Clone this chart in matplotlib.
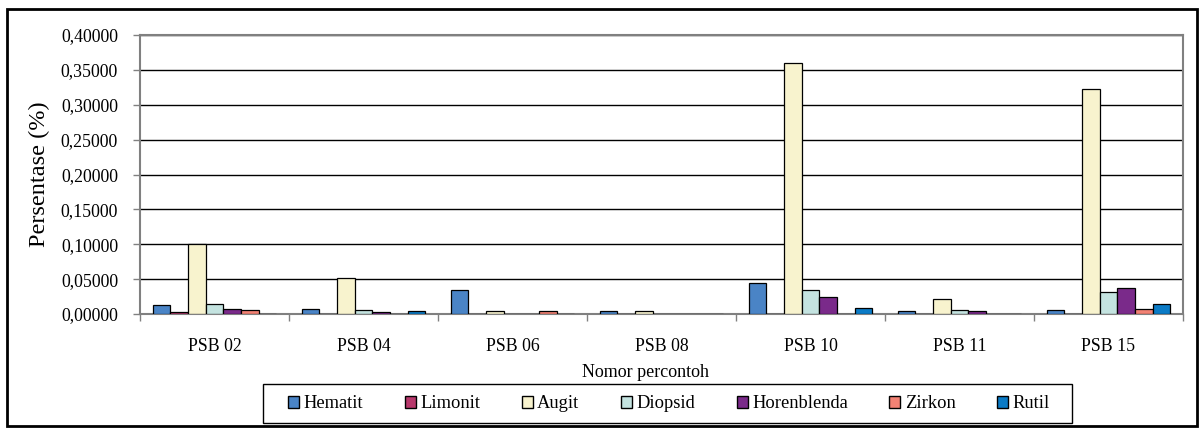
import matplotlib
matplotlib.use('Agg')
import matplotlib.pyplot as plt
import numpy as np
from matplotlib.ticker import FuncFormatter, MultipleLocator
from matplotlib.patches import Rectangle

plt.rcParams['font.family'] = ['Liberation Serif', 'DejaVu Serif']

# Data
samples = ['PSB 02', 'PSB 04', 'PSB 06', 'PSB 08', 'PSB 10', 'PSB 11', 'PSB 15']
minerals = ['Hematit', 'Limonit', 'Augit', 'Diopsid', 'Horenblenda', 'Zirkon', 'Rutil']

hematit = [0.013, 0.007, 0.035, 0.004, 0.045, 0.005, 0.006]
limonit = [0.003, 0.0, 0.0, 0.0, 0.0, 0.0, 0.0]
augit = [0.100, 0.052, 0.004, 0.004, 0.360, 0.022, 0.322]
diopsid = [0.015, 0.006, 0.0, 0.0, 0.035, 0.006, 0.031]
horenblenda = [0.007, 0.003, 0.0, 0.0, 0.024, 0.004, 0.037]
zirkon = [0.006, 0.0, 0.004, 0.0, 0.0, 0.0, 0.007]
rutil = [0.0, 0.004, 0.0, 0.0, 0.009, 0.0, 0.014]

series = [hematit, limonit, augit, diopsid, horenblenda, zirkon, rutil]
colors = ['#4A84C6', '#B8386C', '#F8F3CE', '#C4E3E0', '#7A2A8A', '#F28274', '#0B7BC6']

W, H = 1201, 428
fig = plt.figure(figsize=(W / 100, H / 100), dpi=100)
ax = fig.add_axes([140 / W, 1 - 314 / H, (1183 - 140) / W, (314 - 35) / H])

x = np.arange(len(samples))
n = len(series)
width = 0.832 / n
for i, (vals, col, name) in enumerate(zip(series, colors, minerals)):
    ax.bar(x + (i - (n - 1) / 2) * width, vals, width, color=col,
           edgecolor='black', linewidth=0.9, label=name, zorder=3)

ax.set_xlim(-0.5, len(samples) - 0.5)
ax.set_ylim(0, 0.40)
ax.yaxis.set_major_locator(MultipleLocator(0.05))
ax.yaxis.set_major_formatter(FuncFormatter(lambda v, p: f'{v:.5f}'.replace('.', ',')))
ax.yaxis.grid(True, color='black', linewidth=1.0, zorder=0)

ax.set_xticks(x)
ax.set_xticklabels(samples)
ax.set_xticks(np.arange(-0.5, len(samples)), minor=True)
ax.tick_params(axis='x', which='major', length=0, pad=17, labelsize=12.8)
ax.tick_params(axis='x', which='minor', length=5, width=1, color='#808080')
ax.tick_params(axis='y', length=5, width=1, color='#808080', labelsize=12.8, pad=10.8)

for s in ax.spines.values():
    s.set_color('#808080')
    s.set_linewidth(1.5)

ax.set_ylabel('Persentase (%)', fontsize=17.5, labelpad=8)
ax.set_xlabel('Nomor percontoh', fontsize=13, labelpad=6.5)
ax.xaxis.label.set_x((645 - 140) / (1183 - 140))

# legend entries spread over the box, frame drawn separately
leg = fig.legend(loc='center', bbox_to_anchor=(288 / W, 1 - 414 / H, (1050 - 288) / W, 20 / H),
                 mode='expand', ncol=7, fontsize=13.3, frameon=False,
                 handlelength=0.6, handleheight=0.6, handletextpad=0.25,
                 borderpad=0, borderaxespad=0)
for h in leg.legend_handles:
    h.set_edgecolor('black')
    h.set_linewidth(1.0)
fig.patches.append(Rectangle((263 / W, 1 - 423 / H), (1072 - 263) / W, (423 - 384) / H,
                             transform=fig.transFigure, fill=False,
                             edgecolor='black', linewidth=1.0))

# outer chart border
fig.patches.append(Rectangle((7 / W, 2 / H), (1197 - 7) / W, (426 - 9) / H,
                             transform=fig.transFigure, fill=False,
                             edgecolor='black', linewidth=2))

fig.savefig('out.png', dpi=100)
